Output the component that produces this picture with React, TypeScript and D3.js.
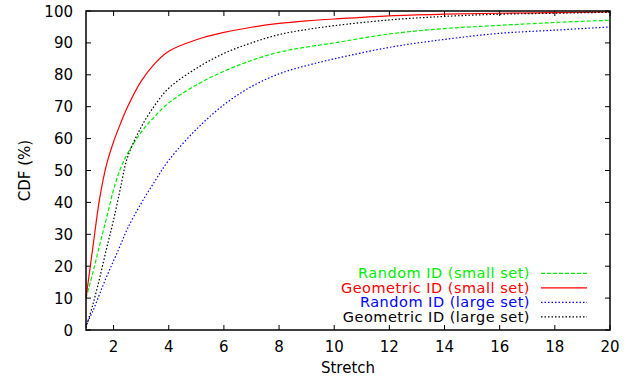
import React, { useEffect, useRef } from 'react';
import * as d3 from 'd3';

// stretch values sampled along the x axis
const stretch = [1, 1.25, 1.5, 1.75, 2, 2.25, 2.5, 3, 3.5, 4, 5, 6, 7, 8, 9, 10, 12, 14, 16, 18, 20];

const randomSmall = [10, 18, 26.8, 35.3, 44, 50.6, 55.2, 62, 67, 71.2, 76.8, 81.1, 84.5, 87.1, 88.7, 90, 92.8, 94.5, 95.5, 96.4, 97.1];
const geometricSmall = [10, 26, 41.5, 52, 59, 64.7, 69.8, 78, 83.6, 87.4, 91, 93.3, 94.9, 96.1, 96.9, 97.5, 98.5, 99, 99.3, 99.5, 99.7];
const randomLarge = [1.5, 6, 11.4, 16.8, 21.7, 26.6, 31.7, 39.7, 46.7, 53.2, 62.9, 70.6, 76.3, 80.3, 82.9, 85, 88.6, 91.1, 93, 94, 95];
const geometricLarge = [0.8, 8, 16.5, 25.7, 34.5, 44.5, 54, 63.6, 70.5, 75.8, 82, 86.7, 90, 92.6, 94.2, 95.4, 97.2, 98.3, 99, 99.3, 99.6];

const seriesNames = ['Random ID (small set)', 'Geometric ID (small set)', 'Random ID (large set)', 'Geometric ID (large set)'];
const xTicks = [2, 4, 6, 8, 10, 12, 14, 16, 18, 20];
const yTicks = [0, 10, 20, 30, 40, 50, 60, 70, 80, 90, 100];

const App: React.FC = () => {
  const svgRef = useRef<SVGSVGElement | null>(null);

  useEffect(() => {
    if (!svgRef.current) return;
    const width = 635;
    const height = 381;
    const margin = { top: 11, right: 25, bottom: 51, left: 86 };
    const w = width - margin.left - margin.right;
    const h = height - margin.top - margin.bottom;
    const font = '"DejaVu Sans", sans-serif';

    const root = d3.select(svgRef.current);
    root.selectAll('*').remove();
    root.attr('width', width).attr('height', height);

    const svg = root.append('g').attr('transform', `translate(${margin.left},${margin.top})`);

    const x = d3.scaleLinear().domain([1, 20]).range([0, w]);
    const y = d3.scaleLinear().domain([0, 100]).range([h, 0]);

    const series = [
      { name: seriesNames[0], values: randomSmall, colour: '#00ee00', dash: '4,2' },
      { name: seriesNames[1], values: geometricSmall, colour: '#ff0000', dash: null },
      { name: seriesNames[2], values: randomLarge, colour: '#0000ff', dash: '1.5,2' },
      { name: seriesNames[3], values: geometricLarge, colour: '#000000', dash: '1.5,2' },
    ];

    // inward ticks on all four sides
    const tickLen = 5;
    xTicks.forEach(t => {
      svg.append('line').attr('x1', x(t)).attr('x2', x(t)).attr('y1', h).attr('y2', h - tickLen)
        .attr('stroke', '#000').attr('stroke-width', 1);
      svg.append('line').attr('x1', x(t)).attr('x2', x(t)).attr('y1', 0).attr('y2', tickLen)
        .attr('stroke', '#000').attr('stroke-width', 1);
      svg.append('text').attr('x', x(t)).attr('y', h + 22)
        .attr('text-anchor', 'middle').style('font-family', font).style('font-size', '15px')
        .attr('fill', '#000').text(t);
    });
    yTicks.forEach(t => {
      svg.append('line').attr('x1', 0).attr('x2', tickLen).attr('y1', y(t)).attr('y2', y(t))
        .attr('stroke', '#000').attr('stroke-width', 1);
      svg.append('line').attr('x1', w).attr('x2', w - tickLen).attr('y1', y(t)).attr('y2', y(t))
        .attr('stroke', '#000').attr('stroke-width', 1);
      svg.append('text').attr('x', -13).attr('y', y(t) + 5.5)
        .attr('text-anchor', 'end').style('font-family', font).style('font-size', '15px')
        .attr('fill', '#000').text(t);
    });

    // curves
    const line = d3.line<number>()
      .x((_, i) => x(stretch[i]))
      .y(d => y(d))
      .curve(d3.curveCatmullRom.alpha(0.5));

    series.forEach(s => {
      const p = svg.append('path').datum(s.values)
        .attr('d', line)
        .attr('fill', 'none')
        .attr('stroke', s.colour)
        .attr('stroke-width', 1.2);
      if (s.dash) p.attr('stroke-dasharray', s.dash);
    });

    // frame
    svg.append('rect').attr('x', 0).attr('y', 0).attr('width', w).attr('height', h)
      .attr('fill', 'none').attr('stroke', '#000').attr('stroke-width', 1.5);

    // axis labels
    svg.append('text').attr('x', w / 2).attr('y', h + 43)
      .attr('text-anchor', 'middle').style('font-family', font).style('font-size', '15px')
      .text('Stretch');
    svg.append('text')
      .attr('transform', `translate(${25 - margin.left},${h / 2}) rotate(-90)`)
      .attr('dy', '0.35em')
      .attr('text-anchor', 'middle').style('font-family', font).style('font-size', '15px')
      .text('CDF (%)');

    // legend, baselines
    const legendTextX = 530 - margin.left;
    const legendLineX1 = 541 - margin.left;
    const legendLineX2 = 587 - margin.left;
    series.forEach((s, i) => {
      const base = 278.3 - margin.top + i * 14.5;
      svg.append('text').attr('x', legendTextX).attr('y', base)
        .attr('text-anchor', 'end').style('font-family', font).style('font-size', '14.5px')
        .style('letter-spacing', '0.5px')
        .attr('fill', s.colour).text(s.name);
      const ly = base - 5;
      const l = svg.append('line').attr('x1', legendLineX1).attr('x2', legendLineX2)
        .attr('y1', ly).attr('y2', ly).attr('stroke', s.colour).attr('stroke-width', 1.3);
      if (s.dash) l.attr('stroke-dasharray', s.dash);
    });
  }, []);

  return (
    <div style={{ position: 'absolute', left: 0, top: 0, width: 635, height: 381, background: '#fff' }}>
      <svg ref={svgRef} />
    </div>
  );
};

export default App;
